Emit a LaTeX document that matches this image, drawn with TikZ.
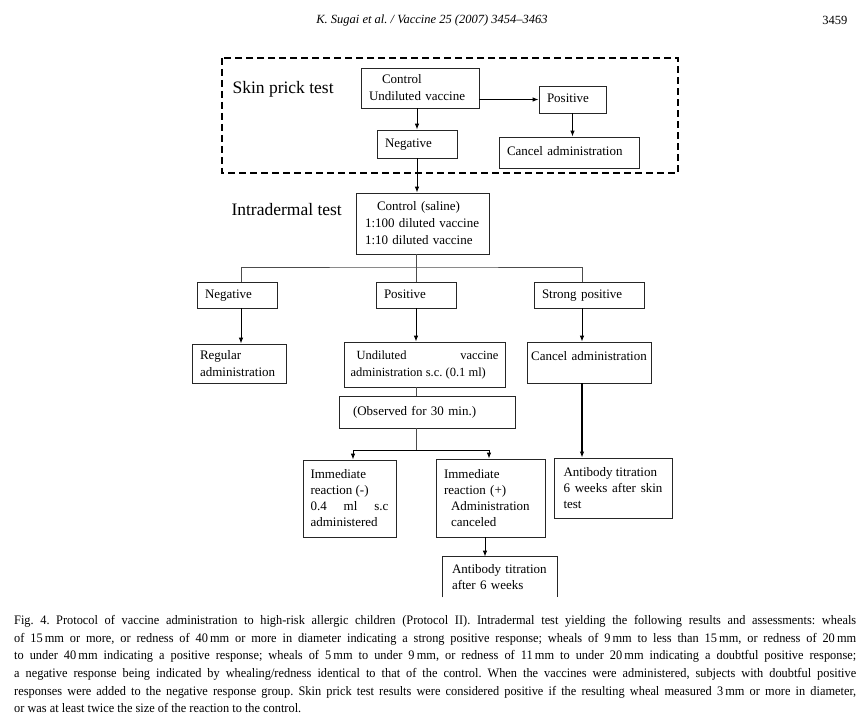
\documentclass[tikz,border=0pt]{standalone}
\usepackage{fontspec}
\setmainfont{Liberation Serif}
\newfontfamily\capfont[FakeStretch=0.95]{Liberation Serif}
\usetikzlibrary{arrows.meta}

\begin{document}
\frenchspacing
\begin{tikzpicture}[x=1pt, y=-1pt,
        box/.style={rectangle, draw=black!85, line width=0.8pt, inner xsep=8pt, inner ysep=3pt, align=left, font=\fontsize{13}{17}\selectfont},
        oneline/.style={text height=10pt, text depth=3pt},
        arr/.style={-{Latex[length=6pt, width=4.5pt]}, line width=0.9pt},
        link/.style={line width=0.8pt, draw=black!70},
        title/.style={anchor=west, font=\fontsize{17.5}{20}\selectfont}]
      \useasboundingbox (0,0) rectangle (868,714);

      % Page header
      \node[font=\fontsize{12.5}{15}\itshape] (head) at (432,20) {K. Sugai et al. / Vaccine 25 (2007) 3454--3463};
      \node[anchor=east, font=\fontsize{12.5}{15}\selectfont] (page) at (851,20) {3459};

      % Skin prick test
      \draw[line width=2.2pt, dash pattern=on 7pt off 4pt] (222,58) rectangle (678,173);
      \node[title] (spt) at (229,89) {Skin prick test};
      \node[box, text width=102pt, minimum height=40pt] (ctrl) at (420,88) {\hspace*{13pt}Control\\Undiluted vaccine};
      \node[box, oneline, text width=64pt, minimum height=28pt] (neg1) at (417,144) {Negative};
      \node[box, oneline, text width=51pt, minimum height=27pt] (pos1) at (572.5,99.5) {Positive};
      \node[box, oneline, text width=124pt, minimum height=31pt] (cancel1) at (569,152.5) {Cancel administration};

      \draw[arr] (ctrl.south -| neg1.north) -- (neg1.north);
      \draw[arr] (ctrl.east |- pos1.west) -- (pos1.west);
      \draw[arr] (pos1.south) -- (pos1.south |- cancel1.north);

      % Intradermal test
      \node[title] (idt) at (228,210) {Intradermal test};
      \node[box, text width=115pt, inner xsep=9pt, minimum height=61pt] (ctrl2) at (422.5,223.5) {\hspace*{12pt}Control (saline)\\1:100 diluted vaccine\\1:10 diluted vaccine};
      \draw[arr] (neg1.south) -- (neg1.south |- ctrl2.north);

      \node[box, oneline, text width=64pt, minimum height=26pt] (neg2) at (237,295) {Negative};
      \node[box, oneline, text width=64pt, minimum height=26pt] (pos2) at (416,295) {Positive};
      \node[box, oneline, text width=94pt, minimum height=26pt] (strong) at (589,295) {Strong positive};
      \coordinate (split) at (416,267);
      \draw[link] (ctrl2.south -| pos2.north) -- (pos2.north);
      \draw[link] ([xshift=4pt]neg2.north) |- (split) -| ([xshift=-7pt]strong.north);

      \node[box, text width=78pt, minimum height=39pt] (reg) at (239,363.5) {Regular\\administration};
      \node[box, align=justify, text width=148pt, inner xsep=6.5pt, minimum height=45pt, font=\fontsize{12.5}{17}\selectfont] (undil) at (424.5,364.5) {\hspace*{6pt}Undiluted vaccine\linebreak administration s.c. (0.1 ml)};
      \node[box, align=center, text width=118pt, inner xsep=3pt, inner ysep=4pt, text height=14pt, text depth=19pt] (cancel2) at (589,362.5) {Cancel administration};

      \draw[arr] ([xshift=4pt]neg2.south) coordinate (a) -- (a |- reg.north);
      \draw[arr] (pos2.south) -- (pos2.south |- undil.north);
      \draw[arr] ([xshift=-7pt]strong.south) coordinate (b) -- (b |- cancel2.north);

      \node[box, oneline, text width=148pt, inner xsep=14pt, minimum height=32pt] (obs) at (427,412) {(Observed for 30 min.)};
      \draw[link] (undil.south -| pos2.south) -- (obs.north -| pos2.south);

      % Observation results
      \node[box, align=justify, text width=78pt, inner xsep=7.5pt, minimum height=77pt, font=\fontsize{13}{16}\selectfont] (immneg) at (349.5,498.5) {Immediate\\reaction (-)\\0.4 ml s.c\linebreak administered};
      \node[box, text width=93pt, minimum height=78pt, font=\fontsize{13}{16}\selectfont] (immpos) at (490.5,498) {Immediate\\reaction (+)\\\hspace*{7pt}Administration\\\hspace*{7pt}canceled};
      \node[box, align=justify, text width=99pt, inner xsep=9.5pt, minimum height=60pt, font=\fontsize{13}{16}\selectfont] (ab1) at (613,488) {Antibody titration\\6 weeks after skin\linebreak test};
      \node[box, draw=none, text width=96pt, inner xsep=9pt, minimum height=40pt, font=\fontsize{13}{16}\selectfont] (ab2) at (500,577) {Antibody titration\\after 6 weeks};
      \draw[line width=0.8pt, black!85] (ab2.south west) -- (ab2.north west) -- (ab2.north east) -- (ab2.south east);

      \coordinate (join) at (416,450);
      \draw[link] (obs.south -| join) -- (join);
      \draw[arr] (join) -| ([xshift=3.5pt]immneg.north);
      \draw[arr] (join) -| ([xshift=-1.5pt]immpos.north);
      \draw[arr, line width=1.3pt] (cancel2.south -| b) -- (b |- ab1.north);
      \draw[arr] ([xshift=-5.5pt]immpos.south) coordinate (c) -- (c |- ab2.north);

      % Caption
      \node[anchor=north west, inner sep=0pt, text width=842pt, align=justify, font=\capfont\fontsize{13}{17.7}\selectfont] (cap) at (14,615) {Fig.~4.\enskip Protocol of vaccine administration to high-risk allergic children (Protocol II). Intradermal test yielding the following results and assessments: wheals\linebreak
        of 15\,mm or more, or redness of 40\,mm or more in diameter indicating a strong positive response; wheals of 9\,mm to less than 15\,mm, or redness of 20\,mm\linebreak
        to under 40\,mm indicating a positive response; wheals of 5\,mm to under 9\,mm, or redness of 11\,mm to under 20\,mm indicating a doubtful positive response;\linebreak
        a negative response being indicated by whealing/redness identical to that of the control. When the vaccines were administered, subjects with doubtful positive\linebreak
        responses were added to the negative response group. Skin prick test results were considered positive if the resulting wheal measured 3\,mm or more in diameter,\linebreak
        or was at least twice the size of the reaction to the control.};
    \end{tikzpicture}
\end{document}
